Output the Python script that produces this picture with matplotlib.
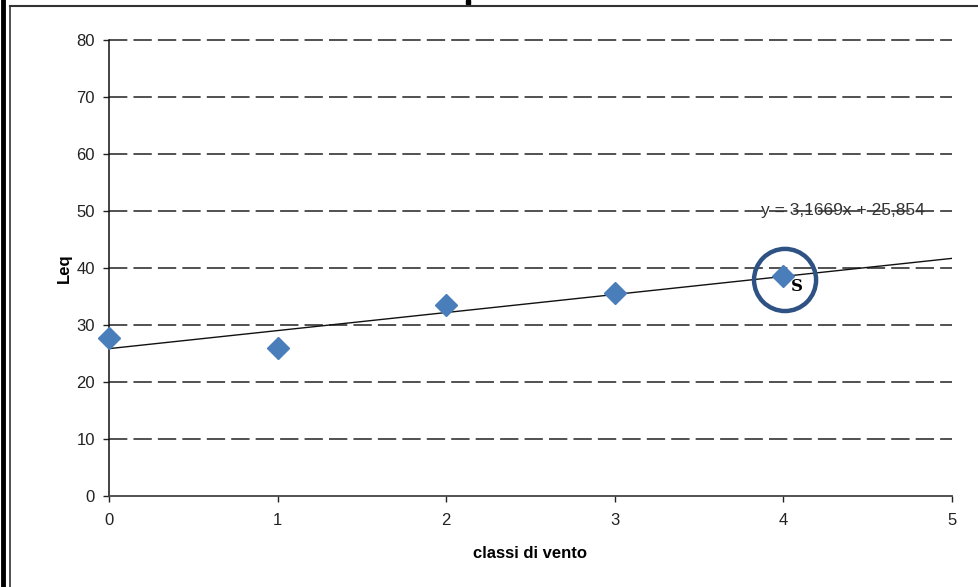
import matplotlib
matplotlib.use('Agg')
import matplotlib.pyplot as plt
from matplotlib.lines import Line2D
from matplotlib.patches import Ellipse, Rectangle

# data
classi = [0, 1, 2, 3, 4]
leq = [27.7, 26.0, 33.5, 35.6, 38.6]
slope = 3.1669
intercept = 25.854
eq_label = 'y = 3,1669x + 25,854'
y_ticks = [0, 10, 20, 30, 40, 50, 60, 70, 80]
x_ticks = [0, 1, 2, 3, 4, 5]

plt.rcParams['font.family'] = ['Liberation Sans Narrow', 'Liberation Sans', 'DejaVu Sans']

fig = plt.figure(figsize=(9.79, 5.87), dpi=100)
ax = fig.add_axes([0.1113, 0.155, 0.9724 - 0.1113, 0.9319 - 0.155])

# dashed horizontal grid
for yv in y_ticks[1:]:
    ax.axhline(yv, color='#222222', linewidth=1.1, dashes=(12, 4), zorder=1, clip_on=False)

# trend line
tx = [0, 5]
ty = [intercept + slope * v for v in tx]
ax.plot(tx, ty, color='#111111', linewidth=1.0, zorder=2)

# points
ax.plot(classi, leq, linestyle='none', marker='D', markersize=11,
        color='#4a7ebb', markeredgecolor='#4a7ebb', zorder=3, clip_on=False)

ax.set_xlim(0, 5)
ax.set_ylim(0, 80)
ax.set_xticks(x_ticks)
ax.set_yticks(y_ticks)
ax.tick_params(axis='both', labelsize=12, colors='#222222', length=4, width=1,
               direction='out', pad=6)
ax.tick_params(axis='x', pad=8)
for s in ['top', 'right']:
    ax.spines[s].set_visible(False)
ax.spines['left'].set_linewidth(1.1)
ax.spines['bottom'].set_linewidth(1.3)
ax.spines['left'].set_color('#111111')
ax.spines['bottom'].set_color('#444444')

ax.set_xlabel('classi di vento', fontsize=12, fontweight='bold', labelpad=13)
ax.set_ylabel('Leq', fontsize=12, fontweight='bold', labelpad=3)

# equation label
ax.text(4.355, 50.0, eq_label, ha='center', va='center', fontsize=12.5, color='#333333', zorder=4)

# highlight circle around last point
circ = Ellipse((4.01, 37.9), width=0.368, height=10.9, fill=False,
               edgecolor='#2e5283', linewidth=3.2, zorder=5, clip_on=False)
ax.add_patch(circ)
ax.text(4.08, 36.8, 'S', family='DejaVu Serif', fontweight='bold', fontsize=12,
        ha='center', va='center', color='black', zorder=6)

# outer frame
fig.add_artist(Line2D([0.0035, 0.0035], [0, 1], transform=fig.transFigure,
                      color='black', linewidth=3.5))
fig.add_artist(Line2D([0.0105, 0.0105], [0, 0.99], transform=fig.transFigure,
                      color='#333333', linewidth=1.2))
fig.add_artist(Line2D([0.0105, 1.0], [0.99, 0.99], transform=fig.transFigure,
                      color='#333333', linewidth=1.5))
fig.add_artist(Rectangle((0.4755, 0.9935), 0.0045, 0.0065, transform=fig.transFigure,
                         color='black'))

fig.savefig('out.png', dpi=100)
